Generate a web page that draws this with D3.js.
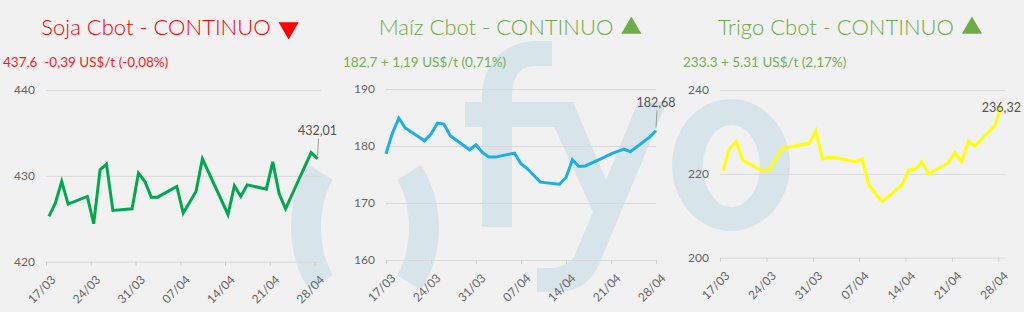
<!DOCTYPE html>
<html>
<head>
<meta charset="utf-8">
<script src="https://cdn.jsdelivr.net/npm/d3@7"></script>
<style>
  html, body { margin: 0; padding: 0; background: #f1f1f1; }
  svg { display: block; font-family: Lato, "Open Sans", sans-serif; }
</style>
</head>
<body>
<svg id="board" width="1024" height="312"></svg>
<script>
// series
const sojaDates = ['2025-03-17','2025-03-18','2025-03-19','2025-03-20','2025-03-23','2025-03-24','2025-03-25','2025-03-26','2025-03-27','2025-03-30','2025-03-31','2025-04-01','2025-04-02','2025-04-03','2025-04-06','2025-04-07','2025-04-09','2025-04-10','2025-04-14','2025-04-15','2025-04-16','2025-04-17','2025-04-20','2025-04-21','2025-04-22','2025-04-23','2025-04-27','2025-04-28'];
const sojaValues = [425.27,426.82,429.34,426.71,427.60,424.42,430.70,431.36,425.97,426.16,430.31,429.34,427.52,427.52,428.76,425.66,428.18,431.98,425.50,428.84,427.60,428.95,428.45,431.63,427.91,426.16,432.71,432.01];

const maizDates = ['2025-03-17','2025-03-18','2025-03-19','2025-03-20','2025-03-23','2025-03-24','2025-03-25','2025-03-26','2025-03-27','2025-03-30','2025-03-31','2025-04-01','2025-04-02','2025-04-03','2025-04-06','2025-04-07','2025-04-08','2025-04-10','2025-04-13','2025-04-14','2025-04-15','2025-04-16','2025-04-17','2025-04-20','2025-04-21','2025-04-23','2025-04-24','2025-04-27','2025-04-28'];
const maizValues = [178.63,182.27,184.90,183.15,180.92,182.09,184.02,183.85,181.80,179.34,180.22,178.87,178.05,178.05,178.75,176.88,176.00,173.66,173.30,174.48,177.58,176.41,176.50,178.05,178.63,179.46,179.00,181.56,182.68];

const trigoDates = ['2025-03-17','2025-03-18','2025-03-19','2025-03-20','2025-03-23','2025-03-24','2025-03-26','2025-03-30','2025-03-31','2025-04-01','2025-04-02','2025-04-03','2025-04-06','2025-04-07','2025-04-08','2025-04-10','2025-04-13','2025-04-14','2025-04-15','2025-04-16','2025-04-17','2025-04-20','2025-04-21','2025-04-22','2025-04-23','2025-04-24','2025-04-27','2025-04-28'];
const trigoValues = [220.76,226.08,227.67,223.14,220.68,221.07,226.08,227.28,230.30,223.54,223.94,223.86,222.90,223.54,217.34,213.36,217.34,220.91,221.07,222.90,219.96,222.66,225.05,222.90,227.83,226.64,231.41,236.32];

const titles = ['Soja Cbot - CONTINUO', 'Maíz Cbot - CONTINUO', 'Trigo Cbot - CONTINUO'];
const subtitles = ['437,6  -0,39 US$/t (-0,08%)', '182,7 + 1,19 US$/t (0,71%)', '233.3 + 5.31 US$/t (2,17%)'];
const trend = ['down', 'up', 'up'];

const sojaTicks = [420, 430, 440];
const maizTicks = [160, 170, 180, 190];
const trigoTicks = [200, 220, 240];
const dateTicks = ['2025-03-17','2025-03-24','2025-03-31','2025-04-07','2025-04-14','2025-04-21','2025-04-28'];

// layout of the three panels
const panels = [
  { dates: sojaDates, values: sojaValues, ticks: sojaTicks, color: '#00a84f', titleColor: '#ff0000', subColor: '#ff1a1a',
    left: 46, right: 321, top: 90, bottom: 261.7, end: '2025-04-29', shift: 11, cx: 170, subX: 3 },
  { dates: maizDates, values: maizValues, ticks: maizTicks, color: '#19b0e6', titleColor: '#6fac46', subColor: '#74b152',
    left: 386, right: 656, top: 89, bottom: 260, end: '2025-04-28', shift: 0, cx: 510, subX: 343 },
  { dates: trigoDates, values: trigoValues, ticks: trigoTicks, color: '#ffff00', titleColor: '#6fac46', subColor: '#74b152',
    left: 720, right: 1005, top: 90, bottom: 257.7, end: '2025-04-29', shift: 11, cx: 850, subX: 683 },
];

const parse = d3.timeParse('%Y-%m-%d');
const dayFmt = d3.timeFormat('%d/%m');
const numFmt = v => d3.format('.2f')(v).replace('.', ',');

const svg = d3.select('#board');

// watermark "( )fyo"
const wm = svg.append('g').attr('fill', '#d7e5ea');

function ringArc(cx, cy, rxo, ryo, rxi, ryi, a0, a1, a0i, a1i, side) {
  const pts = [];
  const n = 24;
  for (let i = 0; i <= n; i++) {
    const t = (a0 + (a1 - a0) * i / n) * Math.PI / 180;
    pts.push([cx + side * rxo * Math.cos(t), cy + ryo * Math.sin(t)]);
  }
  for (let i = n; i >= 0; i--) {
    const t = (a0i + (a1i - a0i) * i / n) * Math.PI / 180;
    pts.push([cx + side * rxi * Math.cos(t), cy + ryi * Math.sin(t)]);
  }
  return 'M' + pts.join('L') + 'Z';
}
wm.append('path').attr('d', ringArc(365, 227.5, 74, 95, 44, 70, -41, 41, -43, 43, -1));
wm.append('path').attr('d', ringArc(365, 227.5, 74, 95, 44, 70, -41, 41, -43, 43, 1));

// f
wm.append('path').attr('d',
  'M482,227 L482,98 C482,62 505,42 536,41 L552,41 L552,66 L536,66 C520,66 512,76 512,96 L512,227 Z');
wm.append('rect').attr('x', 465).attr('y', 102).attr('width', 98).attr('height', 25);
// y
wm.append('path').attr('d',
  'M543,102 L573,102 L606,180 L638,102 L667,102 L600,262 C592,282 578,292 556,292 L537,292 L537,268 L554,268 C564,266 570,262 574,257 L593,212 Z');
// o
wm.append('path').attr('fill-rule', 'evenodd').attr('d', (() => {
  const e = (cx, cy, rx, ry) => `M${cx - rx},${cy} a${rx},${ry} 0 1,0 ${2 * rx},0 a${rx},${ry} 0 1,0 ${-2 * rx},0 Z`;
  return e(731, 165, 59, 66) + ' ' + e(731.5, 166, 28.5, 41);
})());

panels.forEach((p, i) => {
  const g = svg.append('g');
  const data = p.dates.map((d, k) => ({ date: parse(d), value: p.values[k] }));

  const x = d3.scaleTime().domain([parse(p.dates[0]), parse(p.end)]).range([p.left, p.right]);
  const y = d3.scaleLinear().domain(d3.extent(p.ticks)).range([p.bottom, p.top]);

  // title + triangle
  const title = g.append('text')
    .attr('y', 35)
    .attr('font-size', 22)
    .attr('font-weight', 300)
    .attr('fill', p.titleColor)
    .text(titles[i]);
  const tw = title.node().getComputedTextLength();
  const triW = 20, gap = 8;
  const tx = p.cx - (tw + gap + triW) / 2;
  title.attr('x', tx);
  const triX = tx + tw + gap + triW / 2;
  g.append('path')
    .attr('d', d3.symbol(d3.symbolTriangle, 175)())
    .attr('transform', `translate(${triX},${28}) rotate(${trend[i] === 'down' ? 180 : 0})`)
    .attr('fill', trend[i] === 'down' ? '#ff0000' : '#6fac46');

  g.append('text')
    .attr('x', p.subX)
    .attr('y', 66.5)
    .attr('font-size', 13.5)
    .attr('fill', p.subColor)
    .style('white-space', 'pre')
    .text(subtitles[i]);

  // y grid + labels
  const yAxis = g.append('g')
    .attr('transform', `translate(${p.left},0)`)
    .call(d3.axisLeft(y).tickValues(p.ticks).tickSize(-(p.right - p.left)).tickPadding(11));
  yAxis.select('.domain').remove();
  yAxis.selectAll('line').attr('stroke', '#d9d9d9');
  yAxis.selectAll('text').attr('fill', '#666').attr('font-size', 12).attr('font-family', 'Lato, sans-serif');

  // x ticks + rotated labels
  const xAxis = g.append('g')
    .attr('transform', `translate(0,${p.bottom})`)
    .call(d3.axisBottom(x).tickValues(dateTicks.map(parse)).tickSize(4).tickFormat(dayFmt));
  xAxis.select('.domain').remove();
  xAxis.selectAll('line').attr('stroke', '#cfcfcf');
  xAxis.selectAll('text')
    .attr('x', 0).attr('y', 0).attr('dy', 0)
    .attr('text-anchor', 'end')
    .attr('transform', 'translate(10,19) rotate(-45)')
    .attr('fill', '#666')
    .attr('font-size', 12)
    .attr('font-family', 'Lato, sans-serif');

  // series line
  const px = d => x(d3.timeHour.offset(d.date, p.shift));
  g.append('path')
    .datum(data)
    .attr('fill', 'none')
    .attr('stroke', p.color)
    .attr('stroke-width', 3)
    .attr('d', d3.line().x(px).y(d => y(d.value)));

  // last value label: above the point with a leader, or beside it if there is no room
  const last = data[data.length - 1];
  const lx = px(last), ly = y(last.value);
  let labelY = ly - 24;
  const leader = labelY >= p.top + 12;
  if (!leader) labelY = ly + 7;
  if (leader) {
    g.append('line')
      .attr('x1', lx + 1).attr('y1', labelY + 4)
      .attr('x2', lx).attr('y2', ly - 3)
      .attr('stroke', '#999').attr('stroke-width', 1);
  }
  g.append('text')
    .attr('x', lx)
    .attr('y', labelY)
    .attr('text-anchor', 'middle')
    .attr('font-size', 12.5)
    .attr('fill', '#555')
    .text(numFmt(last.value));
});
</script>
</body>
</html>
